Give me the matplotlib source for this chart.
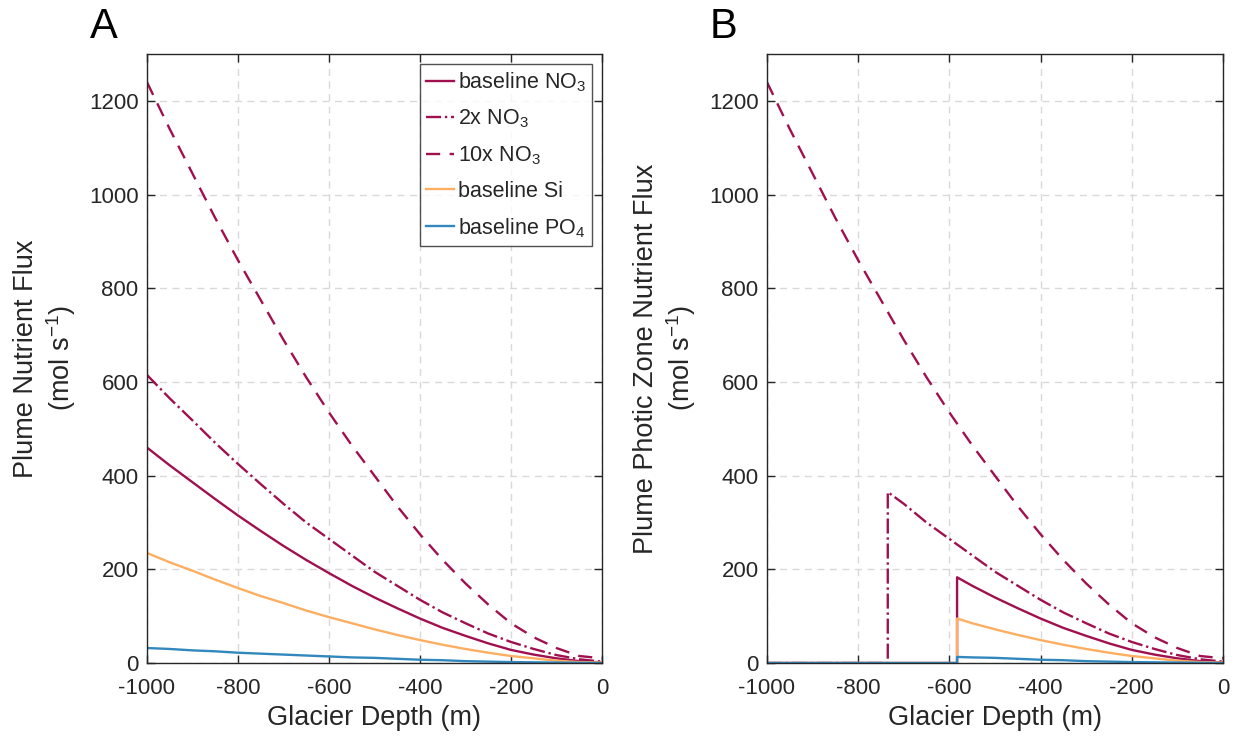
import matplotlib
matplotlib.use("Agg")
import matplotlib.pyplot as plt

plt.rcParams['font.family'] = ['Liberation Sans', 'DejaVu Sans']
plt.rcParams['mathtext.default'] = 'regular'
plt.rcParams['axes.unicode_minus'] = False

# --- data ---
depth = [-1000, -950, -900, -850, -800, -750, -700, -650, -600, -550, -500,
         -450, -400, -350, -300, -250, -200, -150, -100, -50, 0]
no3_base = [460, 422, 386, 350, 315, 282, 250, 220, 192, 165, 140,
            117, 95, 75, 58, 42, 28, 18, 10, 4, 1]
no3_2x = [615, 565, 518, 470, 425, 382, 340, 300, 265, 230, 195,
          165, 135, 108, 85, 63, 45, 30, 17, 8, 3]
no3_10x = [1240, 1140, 1045, 950, 860, 775, 690, 610, 535, 465, 400,
           335, 275, 220, 170, 125, 85, 55, 32, 15, 10]
si_base = [235, 215, 197, 178, 160, 143, 128, 112, 98, 85, 72,
           60, 49, 39, 30, 22, 15, 10, 5, 2, 1]
po4_base = [32, 30, 27, 25, 22, 20, 18, 16, 14, 12, 11,
            9, 7, 6, 4, 3, 2, 1.5, 1, 0.5, 0]

# panel B: flux reaching the photic zone
depth_b_2x = [-1000, -735, -735, -700, -650, -600, -550, -500, -450, -400,
              -350, -300, -250, -200, -150, -100, -50, 0]
no3_2x_b = [0, 0, 365, 340, 300, 265, 230, 195, 165, 135,
            108, 85, 63, 45, 30, 17, 8, 3]
depth_b = [-1000, -583, -583, -550, -500, -450, -400, -350, -300, -250,
           -200, -150, -100, -50, 0]
no3_base_b = [0, 0, 183, 165, 140, 117, 95, 75, 58, 42, 28, 18, 10, 4, 1]
si_base_b = [0, 0, 95, 85, 72, 60, 49, 39, 30, 22, 15, 10, 5, 2, 1]
po4_base_b = [0, 0, 13, 12, 11, 9, 7, 6, 4, 3, 2, 1.5, 1, 0.5, 0]

labels = ['baseline NO$_3$', '2x NO$_3$', '10x NO$_3$', 'baseline Si', 'baseline PO$_4$']

red = '#A0104F'
orange = '#FDAE61'
blue = '#3288BD'
txt = '#262626'
lw = 1.7

fig = plt.figure(figsize=(12.39, 7.38), dpi=100)
axA = fig.add_axes([0.1186, 0.1016, 0.3672, 0.8252])
axB = fig.add_axes([0.619, 0.1016, 0.368, 0.8252])


def style(ax, ylabel):
    ax.set_xlim(-1000, 0)
    ax.set_ylim(0, 1300)
    ax.set_xticks(range(-1000, 1, 200))
    ax.set_yticks(range(0, 1201, 200))
    ax.grid(True, color='#d9d9d9', linestyle=(0, (5, 4)), linewidth=1)
    ax.set_axisbelow(True)
    ax.tick_params(direction='in', length=6, width=1, top=True, right=True,
                   labelsize=16, colors=txt)
    ax.tick_params(axis='x', pad=11)
    ax.tick_params(axis='y', pad=6)
    for s in ax.spines.values():
        s.set_color(txt)
        s.set_linewidth(1)
    ax.set_xlabel('Glacier Depth (m)', fontsize=19.5, color=txt, labelpad=4)
    ax.set_ylabel(ylabel, fontsize=19.5, color=txt, labelpad=8)


# panel A
axA.plot(depth, no3_base, color=red, lw=lw, label=labels[0])
axA.plot(depth, no3_2x, color=red, lw=lw, linestyle='-.', label=labels[1])
axA.plot(depth, no3_10x, color=red, lw=lw, linestyle=(0, (6, 4)), label=labels[2])
axA.plot(depth, si_base, color=orange, lw=lw, label=labels[3])
axA.plot(depth, po4_base, color=blue, lw=lw, label=labels[4])
style(axA, 'Plume Nutrient Flux\n(mol s$^{-1}$)')

leg = axA.legend(loc='upper right', fontsize=15.5, frameon=True, fancybox=False,
                 edgecolor=txt, handlelength=1.3, handletextpad=0.15,
                 labelspacing=0.65, borderpad=0.3, borderaxespad=0.45)
leg.get_frame().set_linewidth(1)
for t in leg.get_texts():
    t.set_color(txt)

# panel B
axB.plot(depth_b, no3_base_b, color=red, lw=lw)
axB.plot(depth_b_2x, no3_2x_b, color=red, lw=lw, linestyle='-.')
axB.plot(depth, no3_10x, color=red, lw=lw, linestyle=(0, (6, 4)))
axB.plot(depth_b, si_base_b, color=orange, lw=lw)
axB.plot(depth_b, po4_base_b, color=blue, lw=lw)
style(axB, 'Plume Photic Zone Nutrient Flux\n(mol s$^{-1}$)')

fig.text(90 / 1239, 1 - 38 / 738, 'A', fontsize=30, color='black')
fig.text(710 / 1239, 1 - 38 / 738, 'B', fontsize=30, color='black')

fig.savefig('out.png', dpi=100, facecolor='white')
